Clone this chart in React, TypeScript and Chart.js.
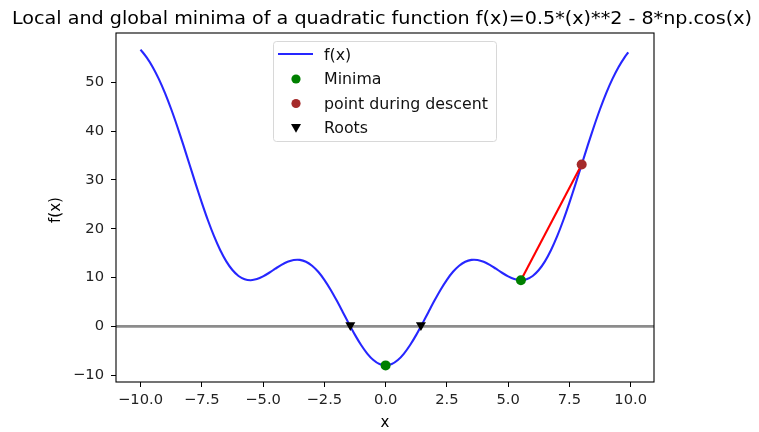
import React, { useEffect, useRef } from "react";
import { Chart, registerables } from "chart.js";

Chart.register(...registerables);

const titleText = "Local and global minima of a quadratic function f(x)=0.5*(x)**2 - 8*np.cos(x)";

const xValues = [
  -10, -9.75, -9.5, -9.25, -9, -8.75, -8.5, -8.25, -8, -7.75, -7.5, -7.25, -7, -6.75, -6.5, -6.25,
  -6, -5.75, -5.5, -5.25, -5, -4.75, -4.5, -4.25, -4, -3.75, -3.5, -3.25, -3, -2.75, -2.5, -2.25,
  -2, -1.75, -1.5, -1.25, -1, -0.75, -0.5, -0.25, 0, 0.25, 0.5, 0.75, 1, 1.25, 1.5, 1.75, 2, 2.25,
  2.5, 2.75, 3, 3.25, 3.5, 3.75, 4, 4.25, 4.5, 4.75, 5, 5.25, 5.5, 5.75, 6, 6.25, 6.5, 6.75, 7, 7.25,
  7.5, 7.75, 8, 8.25, 8.5, 8.75, 9, 9.25, 9.5, 9.75, 9.9,
];

const fValues = [
  56.7126, 55.1119, 53.1024, 50.6594, 47.789, 44.5278, 40.9411, 37.117, 33.164, 29.2008, 25.3519,
  21.735, 18.4688, 15.6372, 13.3123, 11.5357, 10.3186, 9.6419, 9.4556, 9.6845, 10.2307, 10.9804,
  11.8114, 12.6, 13.2291, 13.5957, 13.6167, 13.2343, 12.4199, 11.1757, 9.5341, 7.5566, 5.3292,
  2.9573, 0.5591, -1.7413, -3.8224, -5.5723, -6.8956, -7.72, -8, -7.72, -6.8956, -5.5723, -3.8224,
  -1.7413, 0.5591, 2.9573, 5.3292, 7.5566, 9.5341, 11.1757, 12.4199, 13.2343, 13.6167, 13.5957,
  13.2291, 12.6, 11.8114, 10.9804, 10.2307, 9.6845, 9.4556, 9.6419, 10.3186, 11.5357, 13.3123,
  15.6372, 18.4688, 21.735, 25.3519, 29.2008, 33.164, 37.117, 40.9411, 44.5278, 47.789, 50.6594,
  53.1024, 55.1119, 56.1186,
];

const minimaX = [0, 5.52];
const minimaY = [-8, 9.46];
const descentX = [8];
const descentY = [33.164];
const rootsX = [-1.44, 1.44];
const rootsY = [0, 0];
const descentLineX = [5.52, 8];
const descentLineY = [9.46, 33.164];

const xTicks = [-10, -7.5, -5, -2.5, 0, 2.5, 5, 7.5, 10];
const yTicks = [-10, 0, 10, 20, 30, 40, 50];
const xMin = -11;
const xMax = 10.95;
const yMin = -11.4;
const yMax = 60.1;

const legendLabels = ["f(x)", "Minima", "point during descent", "Roots"];

const FONT = "'DejaVu Sans', sans-serif";
const BLUE = "rgba(0,0,255,0.85)";
const GREEN = "#008000";
const BROWN = "#a52a2a";

const pts = (xs: number[], ys: number[]) => xs.map((x, i) => ({ x, y: ys[i] }));
const fmtMinus = (s: string) => s.replace("-", "\u2212");

const drawTriDown = (ctx: CanvasRenderingContext2D, px: number, py: number, r: number) => {
  ctx.beginPath();
  ctx.moveTo(px - r, py - r * 0.8);
  ctx.lineTo(px + r, py - r * 0.8);
  ctx.lineTo(px, py + r * 0.95);
  ctx.closePath();
  ctx.fill();
};

const decorPlugin = {
  id: "decor",
  afterDatasetsDraw(chart: any) {
    const { ctx, chartArea, scales } = chart;
    const y0 = scales.y.getPixelForValue(0);
    ctx.save();
    ctx.strokeStyle = "rgba(128,128,128,0.9)";
    ctx.lineWidth = 2.6;
    ctx.beginPath();
    ctx.moveTo(chartArea.left, y0);
    ctx.lineTo(chartArea.right, y0);
    ctx.stroke();
    ctx.fillStyle = "#000";
    rootsX.forEach((rx, i) => {
      drawTriDown(ctx, scales.x.getPixelForValue(rx), scales.y.getPixelForValue(rootsY[i]), 5);
    });
    ctx.restore();
  },
  afterDraw(chart: any) {
    const { ctx, chartArea } = chart;
    ctx.save();
    // frame
    ctx.strokeStyle = "#000";
    ctx.lineWidth = 1.1;
    ctx.strokeRect(chartArea.left, chartArea.top, chartArea.right - chartArea.left, chartArea.bottom - chartArea.top);
    // title (horizontally widened to match reference)
    ctx.fillStyle = "#000";
    ctx.font = `17px ${FONT}`;
    ctx.textAlign = "center";
    ctx.textBaseline = "alphabetic";
    const tw = ctx.measureText(titleText).width;
    const sx = 740 / tw;
    ctx.save();
    ctx.translate(382, 24);
    ctx.scale(sx, 1);
    ctx.fillText(titleText, 0, 0);
    ctx.restore();
    // axis labels
    ctx.font = `15px ${FONT}`;
    ctx.textBaseline = "middle";
    ctx.fillText("x", (chartArea.left + chartArea.right) / 2, 423);
    ctx.save();
    ctx.translate(56, 210);
    ctx.rotate(-Math.PI / 2);
    ctx.fillText("f(x)", 0, 0);
    ctx.restore();
    // legend
    const lx = 273, ly = 41, lw = 223, lh = 100;
    ctx.fillStyle = "rgba(255,255,255,0.85)";
    ctx.strokeStyle = "rgba(214,214,214,0.95)";
    ctx.lineWidth = 1;
    ctx.beginPath();
    (ctx as any).roundRect(lx + 0.5, ly + 0.5, lw, lh, 3);
    ctx.fill();
    ctx.stroke();
    const rows = [55, 79, 103.5, 128];
    ctx.textAlign = "left";
    ctx.textBaseline = "middle";
    legendLabels.forEach((lab, i) => {
      const ry = rows[i];
      const mx = 296;
      if (i === 0) {
        ctx.strokeStyle = BLUE;
        ctx.lineWidth = 2.1;
        ctx.beginPath();
        ctx.moveTo(278, ry - 1);
        ctx.lineTo(313, ry - 1);
        ctx.stroke();
      } else if (i === 1 || i === 2) {
        ctx.fillStyle = i === 1 ? GREEN : BROWN;
        ctx.beginPath();
        ctx.arc(mx, ry, 4.6, 0, Math.PI * 2);
        ctx.fill();
      } else {
        ctx.fillStyle = "#000";
        drawTriDown(ctx, mx, ry, 5);
      }
      ctx.fillStyle = "#111";
      ctx.font = `15.8px ${FONT}`;
      ctx.fillText(lab, 324, ry + 1);
    });
    ctx.restore();
  },
};

export default function App() {
  const ref = useRef<HTMLCanvasElement | null>(null);
  useEffect(() => {
    if (!ref.current) return;
    const chart = new Chart(ref.current, {
      type: "scatter",
      data: {
        datasets: [
          {
            label: "f(x)",
            data: pts(xValues, fValues),
            showLine: true,
            borderColor: BLUE,
            borderWidth: 2.1,
            pointRadius: 0,
            tension: 0.3,
            order: 5,
          } as any,
          {
            label: "descent",
            data: pts(descentLineX, descentLineY),
            showLine: true,
            borderColor: "#ff0000",
            borderWidth: 2.1,
            pointRadius: 0,
            order: 4,
          } as any,
          {
            label: "Minima",
            data: pts(minimaX, minimaY),
            backgroundColor: GREEN,
            borderWidth: 0,
            pointRadius: 5,
            order: 3,
          },
          {
            label: "point during descent",
            data: pts(descentX, descentY),
            backgroundColor: BROWN,
            borderWidth: 0,
            pointRadius: 5,
            order: 2,
          },
        ],
      },
      options: {
        animation: false,
        responsive: false,
        events: [],
        layout: { padding: { left: 0, top: 33, right: 105, bottom: 0 } },
        plugins: { legend: { display: false }, tooltip: { enabled: false }, title: { display: false } },
        scales: {
          x: {
            type: "linear",
            min: xMin,
            max: xMax,
            border: { display: false },
            grid: { drawOnChartArea: false, drawTicks: true, tickLength: 5, color: "#000", lineWidth: 1 },
            ticks: {
              color: "#222",
              font: { family: FONT, size: 14.7 },
              padding: 4,
              maxRotation: 0,
              autoSkip: false,
              callback: (v: any) => fmtMinus(Number(v).toFixed(1)),
            },
            afterBuildTicks: (scale: any) => {
              scale.ticks = xTicks.map((v) => ({ value: v }));
            },
            afterFit: (scale: any) => {
              scale.height = 50;
            },
          },
          y: {
            type: "linear",
            min: yMin,
            max: yMax,
            border: { display: false },
            grid: { drawOnChartArea: false, drawTicks: true, tickLength: 5, color: "#000", lineWidth: 1 },
            ticks: {
              color: "#222",
              font: { family: FONT, size: 14.7 },
              padding: 7,
              autoSkip: false,
              callback: (v: any) => fmtMinus(String(Math.round(Number(v)))),
            },
            afterBuildTicks: (scale: any) => {
              scale.ticks = yTicks.map((v) => ({ value: v }));
            },
            afterFit: (scale: any) => {
              scale.width = 116;
            },
          },
        },
      },
      plugins: [decorPlugin],
    });
    return () => chart.destroy();
  }, []);
  return (
    <div style={{ position: "fixed", left: 0, top: 0, width: 759, height: 432, background: "#fff" }}>
      <canvas ref={ref} width={759} height={432} style={{ width: 759, height: 432, display: "block" }} />
    </div>
  );
}
